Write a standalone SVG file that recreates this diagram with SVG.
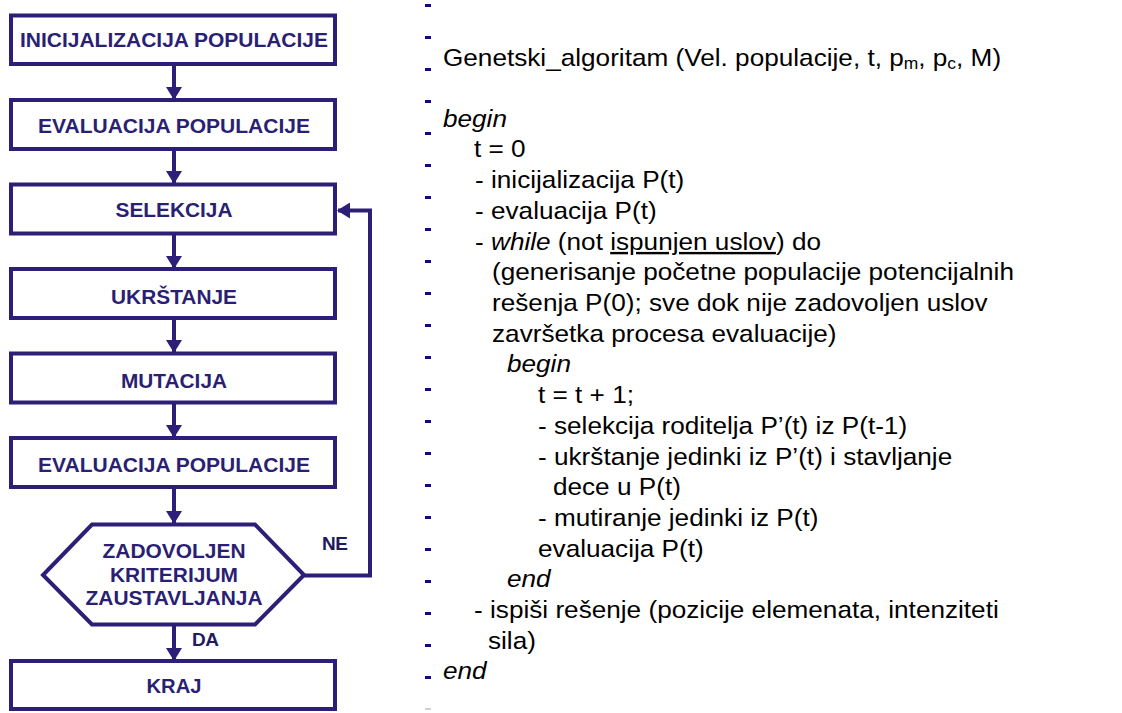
<svg xmlns="http://www.w3.org/2000/svg" width="1122" height="713" viewBox="0 0 1122 713">
  <style>
    .box { fill: #ffffff; stroke: #2d1f78; stroke-width: 4; }
    .lbl { font-family: "Liberation Sans", Arial, sans-serif; font-weight: bold; font-size: 20px; fill: #2a1f72; text-anchor: middle; }
    .yn { font-family: "Liberation Sans", Arial, sans-serif; font-weight: bold; font-size: 19px; fill: #221a5c; letter-spacing: -0.5px; }
    .conn { fill: none; stroke: #2d1f78; stroke-width: 4; }
    .code { font-family: "Liberation Sans", Arial, sans-serif; font-size: 24px; fill: #000000; }
    .kw { font-style: italic; }
    .sub { font-size: 16px; }
    .dash { fill: #0c0c80; }
  </style>
  <defs>
    <marker id="ah" viewBox="0 0 13 16" refX="12" refY="8" markerWidth="13" markerHeight="16" markerUnits="userSpaceOnUse" orient="auto">
      <path d="M0,0 L13,8 L0,16 Z" fill="#2d1f78"/>
    </marker>
  </defs>

  <!-- flowchart connectors -->
  <g id="connectors">
    <path class="conn" d="M174,64 V99" marker-end="url(#ah)"/>
    <path class="conn" d="M174,149 V183" marker-end="url(#ah)"/>
    <path class="conn" d="M174,233.5 V268" marker-end="url(#ah)"/>
    <path class="conn" d="M174,318 V352" marker-end="url(#ah)"/>
    <path class="conn" d="M174,402.5 V437" marker-end="url(#ah)"/>
    <path class="conn" d="M174,487 V523" marker-end="url(#ah)"/>
    <path class="conn" d="M174,624 V660" marker-end="url(#ah)"/>
    <path class="conn" d="M304,575.5 H370 V210.5 H338" stroke-width="3.5" marker-end="url(#ah)"/>
    <text class="yn" x="322" y="550">NE</text>
    <text class="yn" x="192" y="646">DA</text>
  </g>

  <!-- flowchart nodes -->
  <g id="init">
    <rect class="box" x="11" y="15.5" width="324" height="48.5"/>
    <text class="lbl" x="174" y="46.5" textLength="308" lengthAdjust="spacingAndGlyphs">INICIJALIZACIJA POPULACIJE</text>
  </g>
  <g id="eval1">
    <rect class="box" x="11" y="100" width="324" height="49"/>
    <text class="lbl" x="174" y="133" textLength="272" lengthAdjust="spacingAndGlyphs">EVALUACIJA POPULACIJE</text>
  </g>
  <g id="selection">
    <rect class="box" x="11" y="184.5" width="324" height="49"/>
    <text class="lbl" x="174" y="217" textLength="117" lengthAdjust="spacingAndGlyphs">SELEKCIJA</text>
  </g>
  <g id="crossover">
    <rect class="box" x="11" y="269" width="324" height="49"/>
    <text class="lbl" x="174" y="304" textLength="126" lengthAdjust="spacingAndGlyphs">UKRŠTANJE</text>
  </g>
  <g id="mutation">
    <rect class="box" x="11" y="353.5" width="324" height="49"/>
    <text class="lbl" x="174" y="388" textLength="106" lengthAdjust="spacingAndGlyphs">MUTACIJA</text>
  </g>
  <g id="eval2">
    <rect class="box" x="11" y="438" width="324" height="49"/>
    <text class="lbl" x="174" y="472" textLength="272" lengthAdjust="spacingAndGlyphs">EVALUACIJA POPULACIJE</text>
  </g>
  <g id="stop-check">
    <polygon class="box" stroke-width="3.5" points="92,524.5 255,524.5 304,575 255,624.5 92,624.5 43,575"/>
    <text class="lbl" x="174" y="558" textLength="143" lengthAdjust="spacingAndGlyphs">ZADOVOLJEN</text>
    <text class="lbl" x="174" y="582" textLength="128" lengthAdjust="spacingAndGlyphs">KRITERIJUM</text>
    <text class="lbl" x="174" y="605" textLength="177" lengthAdjust="spacingAndGlyphs">ZAUSTAVLJANJA</text>
  </g>
  <g id="end">
    <rect class="box" x="11" y="661" width="324" height="48"/>
    <text class="lbl" x="174" y="693" textLength="55" lengthAdjust="spacingAndGlyphs">KRAJ</text>
  </g>

  <!-- bullet marks of the pseudocode column -->
  <g id="bullets">
    <rect class="dash" x="425" y="4" width="6" height="3"/>
    <rect class="dash" x="425" y="36" width="6" height="3"/>
    <rect class="dash" x="425" y="68" width="6" height="3"/>
    <rect class="dash" x="425" y="100" width="6" height="3"/>
    <rect class="dash" x="425" y="132" width="6" height="3"/>
    <rect class="dash" x="425" y="164" width="6" height="3"/>
    <rect class="dash" x="425" y="196" width="6" height="3"/>
    <rect class="dash" x="425" y="228" width="6" height="3"/>
    <rect class="dash" x="425" y="260" width="6" height="3"/>
    <rect class="dash" x="425" y="292" width="6" height="3"/>
    <rect class="dash" x="425" y="324" width="6" height="3"/>
    <rect class="dash" x="425" y="356" width="6" height="3"/>
    <rect class="dash" x="425" y="388" width="6" height="3"/>
    <rect class="dash" x="425" y="420" width="6" height="3"/>
    <rect class="dash" x="425" y="452" width="6" height="3"/>
    <rect class="dash" x="425" y="484" width="6" height="3"/>
    <rect class="dash" x="425" y="516" width="6" height="3"/>
    <rect class="dash" x="425" y="548" width="6" height="3"/>
    <rect class="dash" x="425" y="580" width="6" height="3"/>
    <rect class="dash" x="425" y="612" width="6" height="3"/>
    <rect class="dash" x="425" y="644" width="6" height="3"/>
    <rect class="dash" x="425" y="676" width="6" height="3"/>
    <rect x="425" y="708" width="6" height="2" fill="#cfcfdc"/>
  </g>

  <!-- pseudocode (slightly widened glyphs) -->
  <g id="pseudocode" class="code" transform="scale(1.09 1)">
    <text x="406.4" y="66">Genetski_algoritam (Vel. populacije, t, p<tspan class="sub" dy="3">m</tspan><tspan dy="-3">, p</tspan><tspan class="sub" dy="3">c</tspan><tspan dy="-3">, M)</tspan></text>
    <text x="406.4" y="127" class="kw">begin</text>
    <text x="434.9" y="157">t = 0</text>
    <text x="435.8" y="188">- inicijalizacija P(t)</text>
    <text x="435.8" y="219">- evaluacija P(t)</text>
    <text x="435.8" y="250">- <tspan class="kw">while</tspan> (not <tspan text-decoration="underline">ispunjen uslov</tspan>) do</text>
    <text x="451.4" y="280">(generisanje početne populacije potencijalnih</text>
    <text x="451.4" y="311">rešenja P(0); sve dok nije zadovoljen uslov</text>
    <text x="451.4" y="342">završetka procesa evaluacije)</text>
    <text x="465.1" y="372" class="kw">begin</text>
    <text x="493.6" y="403">t = t + 1;</text>
    <text x="493.6" y="434">- selekcija roditelja P’(t) iz P(t-1)</text>
    <text x="493.6" y="465">- ukrštanje jedinki iz P’(t) i stavljanje</text>
    <text x="507.3" y="495">dece u P(t)</text>
    <text x="493.6" y="526">- mutiranje jedinki iz P(t)</text>
    <text x="493.6" y="557">evaluacija P(t)</text>
    <text x="465.1" y="587" class="kw">end</text>
    <text x="434.9" y="618">- ispiši rešenje (pozicije elemenata, intenziteti</text>
    <text x="447.7" y="649">sila)</text>
    <text x="406.4" y="679" class="kw">end</text>
  </g>
</svg>
